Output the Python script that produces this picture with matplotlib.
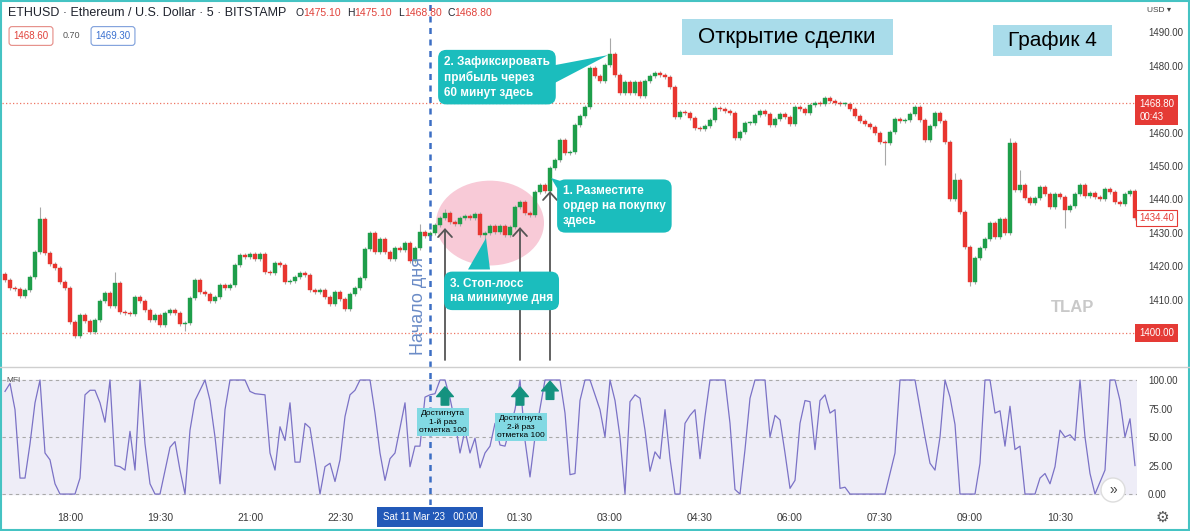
import numpy as np
import pandas as pd
import matplotlib
matplotlib.use('Agg')
import matplotlib.pyplot as plt
import matplotlib.transforms as mtransforms
from matplotlib.patches import Ellipse, Polygon, Circle, Rectangle
from matplotlib.lines import Line2D

plt.rcParams['font.family'] = ['Liberation Sans', 'DejaVu Sans']

# ETHUSD 5 min candles (Bitstamp)
start = '2023-03-10 16:55'
day_start = '2023-03-11 00:00'
first_open = 1417.7
closes = [
    1415.9, 1413.5, 1413.2, 1411.1, 1412.9, 1416.8, 1424.3, 1434.1, 1424.0, 1420.6,
    1419.5, 1415.3, 1413.5, 1403.3, 1399.1, 1405.4, 1403.6, 1400.2, 1403.9, 1409.6,
    1412.0, 1408.1, 1415.0, 1406.3, 1406.0, 1405.8, 1410.8, 1409.6, 1406.9, 1403.8,
    1405.4, 1402.4, 1406.0, 1407.0, 1406.0, 1402.7, 1403.0, 1410.5, 1415.9, 1412.3,
    1411.8, 1409.6, 1410.8, 1414.4, 1413.5, 1414.3, 1420.4, 1423.4, 1422.8, 1423.6,
    1422.0, 1423.7, 1418.3, 1418.0, 1421.0, 1420.4, 1415.3, 1415.6, 1416.8, 1418.0,
    1417.4, 1412.9, 1412.3, 1412.8, 1410.8, 1408.7, 1412.3, 1410.2, 1407.2, 1411.7,
    1413.5, 1416.5, 1425.1, 1430.0, 1424.3, 1428.1, 1424.3, 1422.2, 1425.4, 1424.8,
    1427.0, 1421.6, 1425.4, 1430.2, 1429.0, 1429.9, 1432.3, 1434.4, 1436.0, 1433.2,
    1432.6, 1434.4, 1435.0, 1434.4, 1435.6, 1429.3, 1429.9, 1431.9, 1430.2, 1431.9,
    1429.3, 1431.7, 1437.7, 1439.2, 1436.0, 1435.3, 1442.2, 1444.3, 1442.5, 1449.4,
    1451.8, 1457.8, 1453.9, 1454.2, 1462.3, 1465.0, 1467.7, 1479.3, 1477.0, 1475.5,
    1480.2, 1483.5, 1477.2, 1471.9, 1475.1, 1472.0, 1475.0, 1471.0, 1475.5, 1477.0,
    1477.8, 1477.2, 1476.5, 1473.6, 1464.6, 1466.2, 1466.0, 1464.5, 1461.4, 1461.0,
    1462.0, 1463.8, 1467.4, 1467.0, 1466.6, 1466.0, 1458.5, 1460.2, 1462.9, 1463.0,
    1465.3, 1466.5, 1465.6, 1462.3, 1464.0, 1465.6, 1464.7, 1462.6, 1467.7, 1467.2,
    1465.9, 1468.3, 1469.0, 1468.6, 1470.4, 1469.5, 1469.0, 1468.6, 1468.7, 1467.0,
    1465.0, 1463.5, 1462.6, 1461.7, 1459.9, 1457.2, 1456.9, 1460.2, 1464.1, 1463.5,
    1463.7, 1465.6, 1467.7, 1463.8, 1457.8, 1462.0, 1465.9, 1463.5, 1457.2, 1440.0,
    1445.8, 1436.2, 1425.7, 1415.3, 1422.5, 1425.4, 1428.0, 1433.0, 1428.7, 1434.1,
    1429.9, 1456.9, 1442.8, 1444.3, 1440.4, 1438.9, 1440.5, 1443.8, 1441.6, 1437.7,
    1441.6, 1440.8, 1436.8, 1438.0, 1441.6, 1444.3, 1441.0, 1441.8, 1440.8, 1440.1,
    1443.0, 1442.2, 1439.2, 1438.6, 1441.6, 1442.5, 1434.4,
]
# wicks that stand out; the others are short
highs = {7: 1437.7, 22: 1418.3, 83: 1432.6, 88: 1437.0, 121: 1488.3,
         190: 1447.9, 201: 1458.3, 203: 1448.8}
lows = {14: 1398.6, 36: 1400.6, 96: 1426.5, 176: 1450.3, 193: 1414.0, 212: 1431.4}

# MFI vertices (candle index, value)
mfi_idx = [0, 1, 2, 3, 4, 5, 6, 7, 8, 9, 10, 11, 14, 15, 16, 17, 18, 19, 20, 21,
           22, 23, 24, 25, 26, 27, 28, 29, 30, 31, 33, 34, 35, 36, 37, 38, 40, 41, 42, 43,
           44, 45, 48, 49, 50, 52, 53, 54, 55, 56, 57, 58, 59, 60, 61, 62, 63, 64, 65, 66,
           67, 68, 69, 70, 71, 73, 74, 75, 76, 77, 78, 80, 81, 82, 83, 84, 85, 86, 87, 88,
           89, 90, 91, 92, 93, 94, 95, 96, 97, 98, 99, 100, 102, 103, 104, 105, 106, 108, 111, 112,
           113, 114, 115, 116, 117, 119, 120, 121, 122, 123, 124, 125, 126, 127, 128, 129, 130, 131, 132, 133,
           134, 135, 136, 137, 138, 139, 140, 141, 144, 145, 146, 147, 148, 149, 150, 152, 153, 154, 155, 156,
           157, 158, 159, 160, 161, 162, 163, 164, 165, 166, 167, 168, 169, 176, 178, 179, 182, 184, 185, 186,
           187, 188, 189, 190, 191, 194, 195, 196, 197, 198, 199, 200, 201, 202, 203, 204, 206, 207, 208, 209,
           210, 211, 212, 213, 214, 215, 216, 217, 218, 220, 221, 222, 223, 224, 225, 226]
mfi_val = [90, 97, 74, 14, 14, 44, 80, 100, 36, 30, 9, 0, 0, 14, 87, 91, 91, 80, 63, 100,
           25, 24, 21, 55, 21, 100, 44, 9, 0, 0, 41, 46, 21, 0, 56, 82, 100, 82, 50, 9,
           74, 100, 100, 90, 88, 87, 36, 21, 59, 47, 80, 28, 28, 62, 58, 30, 0, 24, 27, 11,
           30, 68, 87, 91, 100, 100, 71, 36, 12, 31, 36, 80, 24, 42, 42, 85, 87, 88, 100, 100,
           84, 63, 36, 56, 36, 49, 23, 36, 42, 62, 43, 42, 74, 100, 47, 15, 50, 100, 100, 71,
           17, 18, 82, 100, 100, 74, 50, 100, 82, 50, 0, 81, 87, 84, 56, 20, 37, 31, 74, 31,
           0, 0, 62, 69, 74, 31, 68, 100, 100, 62, 4, 0, 39, 84, 100, 100, 50, 69, 65, 36,
           5, 12, 62, 82, 81, 39, 82, 87, 71, 74, 5, 6, 0, 0, 36, 100, 100, 50, 27, 21,
           50, 100, 85, 61, 0, 0, 27, 100, 100, 71, 73, 42, 77, 39, 42, 0, 0, 14, 18, 9,
           24, 56, 50, 52, 47, 100, 50, 18, 0, 21, 100, 100, 82, 50, 66, 25]

# 1470 and 1400 sit under the red price labels
price_ticks = [1410, 1420, 1430, 1440, 1450, 1460, 1480, 1490]
mfi_ticks = [0, 25, 50, 75, 100]
last_price = 1468.80
close_price = 1434.40
low_level = 1400.00
touches = [88, 103, 109]          # candles where MFI hits 100
touch_tops = [1431.4, 1431.7, 1442.5]

GREEN = '#1E9E4A'
RED = '#E8352F'
TEAL = '#1BBDBD'

W, H = 1190, 531
fig = plt.figure(figsize=(W / 100, H / 100), dpi=100, facecolor='white')


def fx(px):
    return px / W


def fy(py):
    return 1 - py / H


pix = mtransforms.Affine2D().scale(1, -1).translate(0, H)

ax = fig.add_axes([fx(2), fy(367), fx(1137) - fx(2), fy(0) - fy(367)])
axm = fig.add_axes([fx(2), fy(505), fx(1137) - fx(2), fy(367) - fy(505)], sharex=ax)

n = len(closes)
times = pd.date_range(start, periods=n, freq='5min')
x = np.arange(n)
c = np.array(closes)
o = np.r_[first_open, c[:-1]]
top = np.maximum(o, c)
bot = np.minimum(o, c)
hi = np.array([highs.get(i, t + 0.6) for i, t in enumerate(top)])
lo = np.array([lows.get(i, b - 0.6) for i, b in enumerate(bot)])
cols = np.where(c >= o, GREEN, RED)

ax.vlines(x, lo, hi, color='#A8A8A8', lw=0.8, zorder=2)
ax.bar(x, np.maximum(top - bot, 0.25), bottom=bot, width=0.74,
       color=cols, edgecolor=cols, lw=0.3, zorder=3)

ax.set_xlim(-0.6, 226.4)
ax.set_ylim(1389.8, 1499.7)
axm.set_ylim(-9.6, 111.4)

# zone of the first hour
ax.add_patch(Ellipse((97, 1432.9), 21.6, 25.4, fc='#F8CAD7', ec='none', zorder=1))

# day start
day_i = times.get_loc(pd.Timestamp(day_start))
for a in (ax, axm):
    a.axvline(day_i, color='#3C6EC4', lw=1.8, ls=(0, (2.4, 2.2)), zorder=4)
ax.text(82.6, 1408.1, 'Начало дня', rotation=90, ha='center', va='center',
        fontsize=13, color='#6B8CC7', zorder=5)

# horizontal levels
for lvl in (last_price, low_level):
    ax.axhline(lvl, color='#EE7563', lw=0.9, ls=(0, (1, 1.8)), zorder=1.5)

# grey arrows up to the touches
for xi, yt in zip(touches, touch_tops):
    ax.annotate('', xy=(xi, yt), xytext=(xi, 1391.9),
                arrowprops=dict(arrowstyle='->,head_length=0.55,head_width=0.5',
                                color='#555555', lw=1.3, shrinkA=0, shrinkB=0), zorder=5)

# teal callouts
box_kw = dict(fontsize=8.5, color='white', fontweight='bold', linespacing=1.3,
              ha='left', va='center', zorder=7)
ax.text(111.6, 1438.0, '1. Разместите\nордер на покупку\nздесь',
        bbox=dict(boxstyle='round,pad=0.5,rounding_size=0.7', fc=TEAL, ec='none'), **box_kw)
ax.add_patch(Polygon([(110.4, 1443.4), (113, 1444.6), (109.2, 1446.4)],
                     closed=True, fc=TEAL, ec='none', zorder=7))
ax.text(87.8, 1476.6, '2. Зафиксировать\nприбыль через\n60 минут здесь',
        bbox=dict(boxstyle='round,pad=0.5,rounding_size=0.7', fc=TEAL, ec='none'), **box_kw)
ax.add_patch(Polygon([(110.0, 1480.2), (110.0, 1474.9), (120.6, 1483.2)],
                     closed=True, fc=TEAL, ec='none', zorder=7))
ax.text(89.0, 1412.6, '3. Стоп-лосс\nна минимуме дня',
        bbox=dict(boxstyle='round,pad=0.5,rounding_size=0.7', fc=TEAL, ec='none'), **box_kw)
ax.add_patch(Polygon([(92.6, 1419.0), (97, 1419.0), (96.2, 1428.4)],
                     closed=True, fc=TEAL, ec='none', zorder=7))

# MFI pane
axm.axhspan(0, 100, color='#EEEDF7', zorder=0)
for lvl in (0, 50, 100):
    axm.axhline(lvl, color='#A9A9A9', lw=0.8, ls=(0, (3, 3)), zorder=1)
axm.plot(mfi_idx, mfi_val, color='#7B72C6', lw=0.9, zorder=3)
for xi, yv in zip(touches, [94, 94, 99]):
    axm.annotate('', xy=(xi, yv), xytext=(xi, yv - 16),
                 arrowprops=dict(arrowstyle='simple,head_length=0.7,head_width=1.2,tail_width=0.55',
                                 color='#14927F', shrinkA=0, shrinkB=0), zorder=5)
mfi_kw = dict(fontsize=6, color='black', ha='center', va='center', linespacing=1.25, zorder=6,
              bbox=dict(boxstyle='square,pad=0.25', fc='#82D9E3', ec='none'))
axm.text(87.6, 63, 'Достигнута\n1-й раз\nотметка 100', **mfi_kw)
axm.text(103.2, 59, 'Достигнута\n2-й раз\nотметка 100', **mfi_kw)

# axes cosmetics
for a in (ax, axm):
    for s in a.spines.values():
        s.set_visible(False)
    a.yaxis.tick_right()
    a.tick_params(axis='y', length=0, pad=8, labelsize=7, labelcolor='#3A3A3A')
ax.set_yticks(price_ticks)
ax.set_yticklabels([f'{v:.2f}' for v in price_ticks])
axm.set_yticks(mfi_ticks)
axm.set_yticklabels([f'{v:.2f}' for v in mfi_ticks])
ax.tick_params(axis='x', length=0, labelbottom=False)

mins = times.hour * 60 + times.minute
sel = (mins % 90) == 0
tick_pos = x[sel]
tick_lab = ['' if p == day_i else t.strftime('%H:%M') for p, t in zip(tick_pos, times[sel])]
axm.set_xticks(tick_pos)
axm.set_xticklabels(tick_lab)
axm.tick_params(axis='x', length=0, pad=6, labelsize=7.5, labelcolor='#3A3A3A')
axm.text(day_i, -0.087, "Sat 11 Mar '23   00:00", transform=axm.get_xaxis_transform(),
         ha='center', va='center', fontsize=7, color='white', clip_on=False, zorder=8,
         bbox=dict(boxstyle='square,pad=0.55', fc='#2259B8', ec='none'))

# price scale labels
ytr = ax.get_yaxis_transform()
ax.text(1.002, last_price - 2.1, f'{last_price:.2f}\n00:43', transform=ytr, ha='left', va='center',
        fontsize=7, color='white', linespacing=1.35, clip_on=False, zorder=10,
        bbox=dict(boxstyle='square,pad=0.4', fc='#E53A35', ec='none'))
ax.text(1.002, close_price, f'{close_price:.2f}', transform=ytr, ha='left', va='center',
        fontsize=7, color='#E53A35', clip_on=False, zorder=10,
        bbox=dict(boxstyle='square,pad=0.3', fc='white', ec='#E53A35', lw=0.8))
ax.text(1.002, low_level, f'{low_level:.2f}', transform=ytr, ha='left', va='center',
        fontsize=7, color='white', clip_on=False, zorder=10,
        bbox=dict(boxstyle='square,pad=0.4', fc='#E53A35', ec='none'))

# header
fig.text(fx(8), fy(13), 'ETHUSD · Ethereum / U.S. Dollar · 5 · BITSTAMP',
         fontsize=9, color='#1E222D', va='center')
for lx, letter, nx, val in [(296, 'O', 303, '1475.10'), (347, 'H', 354, '1475.10'),
                            (398, 'L', 404, '1468.80'), (447, 'C', 454, '1468.80')]:
    fig.text(fx(lx), fy(13), letter, fontsize=7.5, color='#1E222D', va='center')
    fig.text(fx(nx), fy(13), val, fontsize=7.5, color='#E0413A', va='center')
fig.text(fx(31), fy(36), '1468.60', fontsize=7, color='#E0413A', ha='center', va='center',
         bbox=dict(boxstyle='round,pad=0.45,rounding_size=0.3', fc='white', ec='#E58A84', lw=0.8))
fig.text(fx(71), fy(36), '0.70', fontsize=6.5, color='#555555', ha='center', va='center')
fig.text(fx(113), fy(36), '1469.30', fontsize=7, color='#3A70D0', ha='center', va='center',
         bbox=dict(boxstyle='round,pad=0.45,rounding_size=0.3', fc='white', ec='#7C9EDB', lw=0.8))
fig.text(fx(1147), fy(10), 'USD ▾', fontsize=6, color='#444444', va='center')
fig.text(fx(6), fy(380), 'MFI', fontsize=6, color='#555555', va='center')

# title boxes
fig.add_artist(Rectangle((682, 19), 211, 36, transform=pix, fc='#A9DCEA', ec='none'))
fig.text(fx(787), fy(38), 'Открытие сделки', fontsize=16, color='black', ha='center', va='center')
fig.add_artist(Rectangle((993, 25), 119, 31, transform=pix, fc='#A9DCEA', ec='none'))
fig.text(fx(1052), fy(40), 'График 4', fontsize=15, color='black', ha='center', va='center')

fig.text(fx(1073), fy(308), 'TLAP', fontsize=12, fontweight='bold', color='#C9C9C9',
         ha='center', va='center')

# pane separator, scroll button, settings
fig.add_artist(Line2D([0, 1], [fy(367), fy(367)], color='#CFCFCF', lw=1))
fig.add_artist(Circle((1113, 490), 12, transform=pix, fc='white', ec='#DDDDDD', lw=1))
fig.text(fx(1113), fy(490), '»', fontsize=10, color='#444444', ha='center', va='center')
fig.text(fx(1162), fy(517), '⚙', fontsize=11, color='#555555', ha='center', va='center',
         family='DejaVu Sans')
fig.add_artist(Rectangle((1, 1), W - 2.5, H - 2.5, transform=pix, fc='none', ec='#45C3C3', lw=1.5))

fig.savefig('out.png', dpi=100, facecolor='white')
